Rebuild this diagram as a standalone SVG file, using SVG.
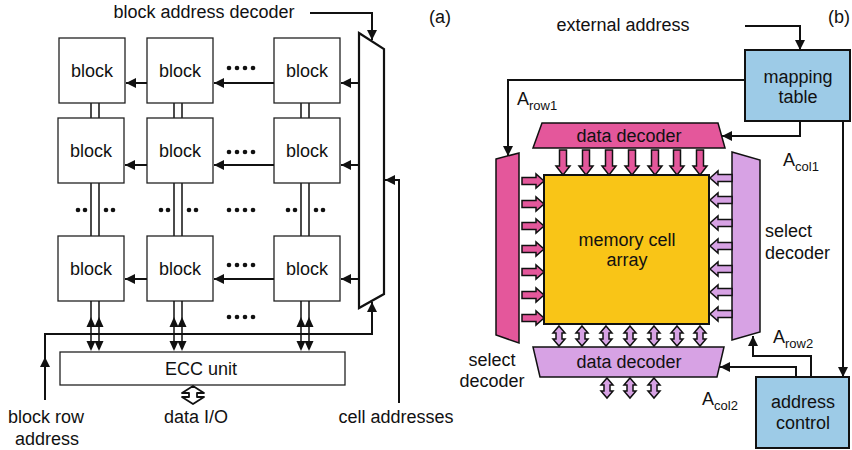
<svg xmlns="http://www.w3.org/2000/svg" width="852" height="450" viewBox="0 0 852 450">
<defs>
<style>
text{font-family:"Liberation Sans",Arial,sans-serif;font-size:18px;fill:#111}
.m{text-anchor:middle}
.sub{font-size:13px}
.blk{fill:#fff;stroke:#222;stroke-width:1.3}
.ln{fill:none;stroke:#111;stroke-width:2}
.dl{fill:none;stroke:#111;stroke-width:1.5}
.hd{fill:#111}
.pk{fill:#E4579B;stroke:#111;stroke-width:1.5}
.lc{fill:#D7A2E4;stroke:#111;stroke-width:1.5}
.bl{fill:#9DCBE7;stroke:#111;stroke-width:2}
.dot{fill:#111}
</style>
<marker id="ah" viewBox="0 0 10 10" refX="10" refY="5" markerWidth="5" markerHeight="5" orient="auto" markerUnits="strokeWidth"><path d="M0,0L10,5L0,10z" fill="#111"/></marker>
<path id="ar" d="M0,-3.5H14V-7L22,0L14,7V3.5H0Z"/>
<path id="ad" d="M-3.5,0V16H-7L0,25L7,16H3.5V0Z"/>
<path id="dv" d="M0,0L6,7H3V13H6L0,20L-6,13H-3V7H-6Z"/>
<path id="up" d="M0,0L4.5,10H-4.5Z"/>
<path id="dn" d="M0,0L4.5,-10H-4.5Z"/>
<g id="dots4" class="dot"><circle cx="0" cy="0" r="2.3"/><circle cx="8" cy="0" r="2.3"/><circle cx="16" cy="0" r="2.3"/><circle cx="24" cy="0" r="2.3"/></g>
<g id="dots2" class="dot"><circle cx="0" cy="0" r="2.3"/><circle cx="7" cy="0" r="2.3"/></g>
</defs>

<!-- ===== Panel (a) ===== -->
<text x="440" y="23" class="m">(a)</text>
<text x="204" y="18" class="m">block address decoder</text>

<g id="decoder-a"><polygon points="359,33 384,49 384,294 359,308" fill="#fff" stroke="#111" stroke-width="2.2"/></g>

<!-- vertical double lines between blocks -->
<g id="vlines" class="dl">
<path d="M91,103V118M99,103V118M174,103V118M182,103V118M301,103V118M309,103V118"/>
<path d="M91,183V236M99,183V236M174,183V236M182,183V236M301,183V236M309,183V236"/>
</g>

<g id="b11"><rect x="59" y="38" width="66" height="65" class="blk"/><text x="92" y="77" class="m">block</text></g>
<g id="b12"><rect x="147" y="38" width="66" height="65" class="blk"/><text x="180" y="77" class="m">block</text></g>
<g id="b13"><rect x="274" y="38" width="66" height="65" class="blk"/><text x="307" y="77" class="m">block</text></g>
<g id="b21"><rect x="58" y="118" width="66" height="65" class="blk"/><text x="91" y="157" class="m">block</text></g>
<g id="b22"><rect x="147" y="118" width="66" height="65" class="blk"/><text x="180" y="157" class="m">block</text></g>
<g id="b23"><rect x="274" y="118" width="66" height="65" class="blk"/><text x="307" y="157" class="m">block</text></g>
<g id="b31"><rect x="58" y="236" width="66" height="65" class="blk"/><text x="91" y="275" class="m">block</text></g>
<g id="b32"><rect x="147" y="236" width="66" height="65" class="blk"/><text x="180" y="275" class="m">block</text></g>
<g id="b33"><rect x="274" y="236" width="66" height="65" class="blk"/><text x="307" y="275" class="m">block</text></g>

<g id="ecc"><rect x="60" y="352" width="285" height="33" class="blk"/><text x="201" y="375" class="m">ECC unit</text></g>

<!-- dots -->
<g id="dots-a">
<use href="#dots4" x="229" y="68"/>
<use href="#dots4" x="229" y="152"/>
<use href="#dots4" x="229" y="210"/>
<use href="#dots4" x="229" y="265"/>
<use href="#dots4" x="229" y="317"/>
<use href="#dots2" x="78" y="210"/><use href="#dots2" x="106" y="210"/>
<use href="#dots2" x="161" y="210"/><use href="#dots2" x="189" y="210"/>
<use href="#dots2" x="288" y="210"/><use href="#dots2" x="316" y="210"/>
</g>

<g id="connectors-a">
<!-- row arrows -->
<path class="ln" d="M359,83H341" marker-end="url(#ah)"/>
<path class="ln" d="M274,83H214" marker-end="url(#ah)"/>
<path class="ln" d="M147,83H126" marker-end="url(#ah)"/>
<path class="ln" d="M359,165H341" marker-end="url(#ah)"/>
<path class="ln" d="M274,165H214" marker-end="url(#ah)"/>
<path class="ln" d="M147,165H125" marker-end="url(#ah)"/>
<path class="ln" d="M359,279H341" marker-end="url(#ah)"/>
<path class="ln" d="M274,279H214" marker-end="url(#ah)"/>
<path class="ln" d="M147,279H125" marker-end="url(#ah)"/>
<!-- block address decoder input -->
<path class="ln" d="M310,13H372V40" marker-end="url(#ah)"/>
<!-- cell addresses -->
<path class="ln" d="M399,403V180H385" marker-end="url(#ah)"/>
<!-- block row address -->
<path class="ln" d="M45,400V334H372V302" marker-end="url(#ah)"/>
<path class="ln" d="M45,380V357" marker-end="url(#ah)"/>
<!-- double-headed lines block row 3 to ECC -->
<path class="dl" d="M91,301V344M99,301V344M174,301V344M182,301V344M301,301V344M309,301V344"/>
<g class="hd">
<use href="#up" x="91" y="317"/><use href="#up" x="99" y="317"/>
<use href="#up" x="174" y="317"/><use href="#up" x="182" y="317"/>
<use href="#up" x="301" y="317"/><use href="#up" x="309" y="317"/>
<use href="#dn" x="91" y="351"/><use href="#dn" x="99" y="351"/>
<use href="#dn" x="174" y="351"/><use href="#dn" x="182" y="351"/>
<use href="#dn" x="301" y="351"/><use href="#dn" x="309" y="351"/>
</g>
<!-- data I/O hollow double arrow -->
<path d="M193,386L204,393H197V397H204L193,404L182,397H189V393H182Z" fill="#fff" stroke="#111" stroke-width="1.8" stroke-linejoin="round"/>
</g>

<text x="196" y="423" class="m">data I/O</text>
<text x="46" y="423" class="m">block row</text>
<text x="47" y="445" class="m">address</text>
<text x="396" y="423" class="m">cell addresses</text>

<!-- ===== Panel (b) ===== -->
<text x="839" y="23" class="m">(b)</text>
<text x="623" y="31" class="m">external address</text>

<g id="mapping"><rect x="745" y="50" width="105" height="71" class="bl"/><text x="798" y="83" class="m">mapping</text><text x="798" y="103" class="m">table</text></g>
<g id="addrctl"><rect x="756" y="377" width="93" height="71" class="bl"/><text x="803" y="408" class="m">address</text><text x="803" y="429" class="m">control</text></g>

<g id="array"><rect x="544" y="175" width="165" height="149" fill="#F9C517" stroke="#111" stroke-width="2"/><text x="627" y="246" class="m">memory cell</text><text x="627" y="266" class="m">array</text></g>

<g id="top-decoder"><polygon points="542,123 718,123 725,148 533,148" class="pk"/><text x="629" y="142" class="m">data decoder</text></g>
<g id="bottom-decoder"><polygon points="533,347 724,347 717,377 540,377" class="lc"/><text x="629" y="368" class="m">data decoder</text></g>
<g id="left-select"><polygon points="496,159 519,153 519,343 496,335" class="pk"/></g>
<g id="right-select"><polygon points="732,152 760,160 760,332 732,340" class="lc"/></g>

<text x="492" y="366" class="m">select</text>
<text x="492" y="387" class="m">decoder</text>
<text x="765" y="237">select</text>
<text x="765" y="259">decoder</text>

<g id="bus-arrows">
<g class="pk">
<use href="#ar" x="522" y="181"/><use href="#ar" x="522" y="204"/><use href="#ar" x="522" y="226"/><use href="#ar" x="522" y="249"/><use href="#ar" x="522" y="272"/><use href="#ar" x="522" y="295"/><use href="#ar" x="522" y="318"/>
<use href="#ad" x="563" y="150"/><use href="#ad" x="586" y="150"/><use href="#ad" x="609" y="150"/><use href="#ad" x="632" y="150"/><use href="#ad" x="655" y="150"/><use href="#ad" x="677" y="150"/><use href="#ad" x="700" y="150"/>
</g>
<g class="lc">
<use href="#ar" transform="translate(732,178) scale(-1,1)"/><use href="#ar" transform="translate(732,200) scale(-1,1)"/><use href="#ar" transform="translate(732,223) scale(-1,1)"/><use href="#ar" transform="translate(732,246) scale(-1,1)"/><use href="#ar" transform="translate(732,269) scale(-1,1)"/><use href="#ar" transform="translate(732,292) scale(-1,1)"/><use href="#ar" transform="translate(732,314) scale(-1,1)"/>
<use href="#dv" x="559" y="326"/><use href="#dv" x="582" y="326"/><use href="#dv" x="606" y="326"/><use href="#dv" x="630" y="326"/><use href="#dv" x="654" y="326"/><use href="#dv" x="677" y="326"/><use href="#dv" x="700" y="326"/>
<use href="#dv" x="607" y="378"/><use href="#dv" x="630" y="378"/><use href="#dv" x="654" y="378"/>
</g>
</g>

<g id="connectors-b">
<path class="ln" d="M745,26H800V50" marker-end="url(#ah)"/>
<path class="ln" d="M745,80H508V156" marker-end="url(#ah)"/>
<path class="ln" d="M800,121V136H722" marker-end="url(#ah)"/>
<path class="ln" d="M843,121V377" marker-end="url(#ah)"/>
<path class="ln" d="M811,377V356H753V336" marker-end="url(#ah)"/>
<path class="ln" d="M796,377V367H720" marker-end="url(#ah)"/>
</g>

<text x="517" y="105">A<tspan class="sub" dy="5">row1</tspan></text>
<text x="783" y="166">A<tspan class="sub" dy="5">col1</tspan></text>
<text x="773" y="343">A<tspan class="sub" dy="5">row2</tspan></text>
<text x="702" y="405">A<tspan class="sub" dy="5">col2</tspan></text>
</svg>
